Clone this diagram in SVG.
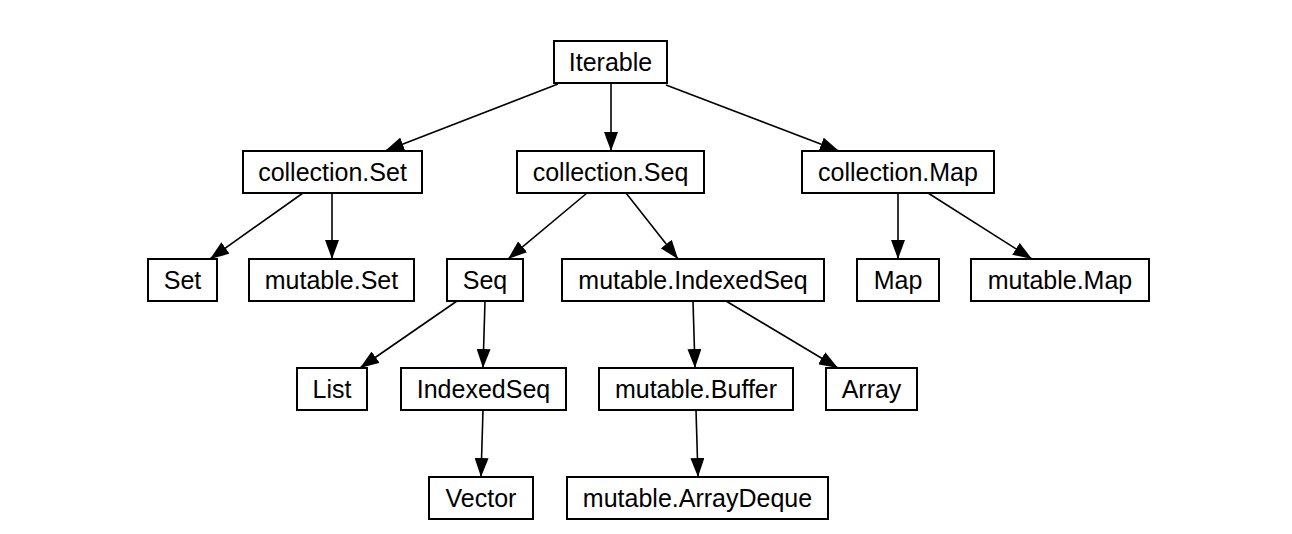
<svg xmlns="http://www.w3.org/2000/svg" width="1292" height="534" viewBox="0 0 1292 534">
<style>
.n rect{fill:#fff;stroke:#000;stroke-width:2}
.n text{font-family:"Liberation Sans",Arial,sans-serif;font-size:25px;fill:#000;text-anchor:middle}
#edges line{stroke:#000;stroke-width:1.6;marker-end:url(#ah)}
</style>
<defs>
<marker id="ah" viewBox="0 0 19 14" refX="19" refY="7" markerWidth="19" markerHeight="14" markerUnits="userSpaceOnUse" orient="auto">
<path d="M0,0 L19,7 L0,14 Z" fill="#000"/>
</marker>
</defs>
<rect width="1292" height="534" fill="#fff"/>
<g id="edges">
<line x1="558" y1="84" x2="385" y2="151"/>
<line x1="611" y1="84" x2="611" y2="151"/>
<line x1="666" y1="85" x2="839" y2="151"/>
<line x1="303" y1="193" x2="210" y2="259"/>
<line x1="332" y1="193" x2="332" y2="259"/>
<line x1="587" y1="193" x2="508" y2="259"/>
<line x1="626" y1="193" x2="678" y2="259"/>
<line x1="898" y1="193" x2="898" y2="259"/>
<line x1="928" y1="193" x2="1032" y2="259"/>
<line x1="457" y1="301" x2="360" y2="368"/>
<line x1="485" y1="301" x2="483" y2="368"/>
<line x1="693" y1="301" x2="695" y2="368"/>
<line x1="726" y1="301" x2="838" y2="368"/>
<line x1="483" y1="410" x2="481" y2="477"/>
<line x1="696" y1="410" x2="698" y2="477"/>
</g>
<g id="iterable" class="n"><rect x="554" y="41" width="113" height="42"/><text x="610.5" y="71">Iterable</text></g>
<g id="collection_set" class="n"><rect x="243" y="151" width="179" height="42"/><text x="332.5" y="181">collection.Set</text></g>
<g id="collection_seq" class="n"><rect x="517" y="151" width="187" height="42"/><text x="610.5" y="181">collection.Seq</text></g>
<g id="collection_map" class="n"><rect x="802" y="151" width="192" height="42"/><text x="898" y="181">collection.Map</text></g>
<g id="set" class="n"><rect x="148" y="259" width="69" height="42"/><text x="182.5" y="289">Set</text></g>
<g id="mutable_set" class="n"><rect x="249" y="259" width="165" height="42"/><text x="331.5" y="289">mutable.Set</text></g>
<g id="seq" class="n"><rect x="447" y="259" width="76" height="42"/><text x="485" y="289">Seq</text></g>
<g id="mutable_indexedseq" class="n"><rect x="562" y="259" width="262" height="42"/><text x="693" y="289">mutable.IndexedSeq</text></g>
<g id="map" class="n"><rect x="857" y="259" width="82" height="42"/><text x="898" y="289">Map</text></g>
<g id="mutable_map" class="n"><rect x="971" y="259" width="178" height="42"/><text x="1060" y="289">mutable.Map</text></g>
<g id="list" class="n"><rect x="297" y="368" width="70" height="42"/><text x="332" y="398">List</text></g>
<g id="indexedseq" class="n"><rect x="401" y="368" width="165" height="42"/><text x="483.5" y="398">IndexedSeq</text></g>
<g id="mutable_buffer" class="n"><rect x="599" y="368" width="194" height="42"/><text x="696" y="398">mutable.Buffer</text></g>
<g id="array" class="n"><rect x="826" y="368" width="91" height="42"/><text x="871.5" y="398">Array</text></g>
<g id="vector" class="n"><rect x="429" y="477" width="104" height="42"/><text x="481" y="507">Vector</text></g>
<g id="mutable_arraydeque" class="n"><rect x="567" y="477" width="261" height="42"/><text x="697.5" y="507">mutable.ArrayDeque</text></g>
</svg>
